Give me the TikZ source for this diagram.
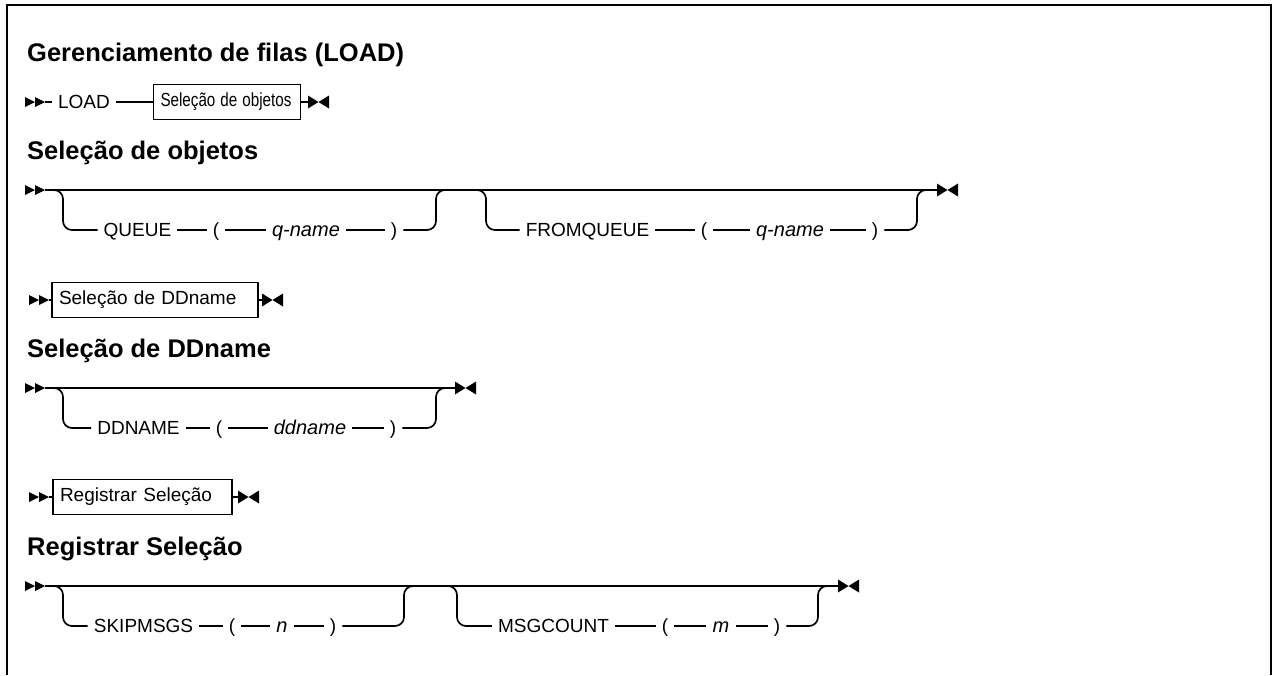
\documentclass[tikz,border=0pt]{standalone}
\usepackage{fontspec}
\setmainfont{Liberation Sans}
\tikzset{
  rail/.style={line width=1.7pt},
  rc/.style={rounded corners=9pt},
  tok/.style={inner xsep=6pt, inner ysep=0pt, text height=13.6pt, text depth=0pt, font=\fontsize{19}{22}\selectfont},
  itok/.style={tok, font=\fontsize{20}{22}\selectfont\itshape},
  boxed/.style={draw, line width=1.6pt, minimum height=35pt, inner xsep=7pt, inner ysep=0pt, align=left, text height=13.6pt, text depth=4pt, font=\fontsize{19}{22}\selectfont},
  hd/.style={anchor=base west, inner sep=0pt, font=\fontsize{25.5}{30}\selectfont\bfseries},
  startmark/.pic={\fill (-20,-5) -- (-10,0) -- (-20,5) -- cycle; \fill (-10,-5) -- (0,0) -- (-10,5) -- cycle;},
  endmark/.pic={\fill (0,-6.5) -- (10.5,0) -- (0,6.5) -- cycle; \fill (21,-6.5) -- (10.5,0) -- (21,6.5) -- cycle;}
}
\begin{document}
\begin{tikzpicture}[x=1pt,y=-1pt]
\useasboundingbox (0,0) rectangle (1274,675);
% frame
\draw[line width=2.5pt] (7,675) -- (7,5) -- (1271,5) -- (1271,675);

% ---- title and line 1
\node[hd] (t1) at (27,61) {Gerenciamento de filas (LOAD)};
\coordinate (s1) at (45,102);
\pic at (s1) {startmark};
\node[tok] (load) at (84,102) {LOAD};
\node[boxed, text width=133pt] (box1) at (227,102) {\scalebox{0.8}[1]{Seleção de objetos}};
\coordinate (e1) at (308,102);
\pic at (e1) {endmark};
\draw[rail] (s1) -- (load.west);
\draw[rail] (load.east) -- (box1.west);
\draw[rail] (box1.east) -- (e1);

% ---- Seleção de objetos
\node[hd] (t2) at (27,159) {Seleção de objetos};
\coordinate (s2) at (45,190);
\coordinate (e2) at (937,190);
\pic at (s2) {startmark};
\pic at (e2) {endmark};
\draw[rail] (s2) -- (e2);
% branch QUEUE
\node[tok] (qu) at (137.5,230) {QUEUE};
\node[tok] (qlp) at (216,230) {(};
\node[itok] (qn) at (306,230) {q-name};
\node[tok] (qrp) at (394,230) {)};
\draw[rail,rc] (s2) -- (63,190) |- (qu.west);
\draw[rail] (qu.east) -- (qlp.west);
\draw[rail] (qlp.east) -- (qn.west);
\draw[rail] (qn.east) -- (qrp.west);
\draw[rail,rc] (qrp.east) -| (436,190) -- (455,190);
% branch FROMQUEUE
\node[tok] (fq) at (587.5,230) {FROMQUEUE};
\node[tok] (flp) at (704,230) {(};
\node[itok] (fn) at (790,230) {q-name};
\node[tok] (frp) at (875,230) {)};
\draw[rail,rc] (468,190) -- (486,190) |- (fq.west);
\draw[rail] (fq.east) -- (flp.west);
\draw[rail] (flp.east) -- (fn.west);
\draw[rail] (fn.east) -- (frp.west);
\draw[rail,rc] (frp.east) -| (917,190) -- (e2);

% ---- line 3
\coordinate (s3) at (49,300);
\pic at (s3) {startmark};
\node[boxed, text width=192pt] (box2) at (155,300) {Seleção de DDname};
\coordinate (e3) at (262,300);
\pic at (e3) {endmark};
\draw[rail] (s3) -- (box2.west);
\draw[rail] (box2.east) -- (e3);

% ---- Seleção de DDname
\node[hd] (t3) at (27,357) {Seleção de DDname};
\coordinate (s4) at (45,388);
\coordinate (e4) at (455,388);
\pic at (s4) {startmark};
\pic at (e4) {endmark};
\draw[rail] (s4) -- (e4);
\node[tok] (dd) at (138.5,428) {DDNAME};
\node[tok] (dlp) at (219,428) {(};
\node[itok] (dn) at (310,428) {ddname};
\node[tok] (drp) at (393,428) {)};
\draw[rail,rc] (s4) -- (63,388) |- (dd.west);
\draw[rail] (dd.east) -- (dlp.west);
\draw[rail] (dlp.east) -- (dn.west);
\draw[rail] (dn.east) -- (drp.west);
\draw[rail,rc] (drp.east) -| (436,388) -- (e4);

% ---- line 4
\coordinate (s5) at (49,497);
\pic at (s5) {startmark};
\node[boxed, text width=165pt] (box3) at (142.5,497) {Registrar Seleção};
\coordinate (e5) at (238,497);
\pic at (e5) {endmark};
\draw[rail] (s5) -- (box3.west);
\draw[rail] (box3.east) -- (e5);

% ---- Registrar Seleção
\node[hd] (t4) at (27,555) {Registrar Seleção};
\coordinate (s6) at (45,586);
\coordinate (e6) at (838,586);
\pic at (s6) {startmark};
\pic at (e6) {endmark};
\draw[rail] (s6) -- (e6);
\node[tok] (sk) at (143.5,626) {SKIPMSGS};
\node[tok] (slp) at (232,626) {(};
\node[itok] (sn) at (282,626) {n};
\node[tok] (srp) at (333,626) {)};
\draw[rail,rc] (s6) -- (63,586) |- (sk.west);
\draw[rail] (sk.east) -- (slp.west);
\draw[rail] (slp.east) -- (sn.west);
\draw[rail] (sn.east) -- (srp.west);
\draw[rail,rc] (srp.east) -| (404,586) -- (420,586);
\node[tok] (mc) at (553.5,626) {MSGCOUNT};
\node[tok] (mlp) at (665,626) {(};
\node[itok] (mn) at (721,626) {m};
\node[tok] (mrp) at (777,626) {)};
\draw[rail,rc] (440,586) -- (457,586) |- (mc.west);
\draw[rail] (mc.east) -- (mlp.west);
\draw[rail] (mlp.east) -- (mn.west);
\draw[rail] (mn.east) -- (mrp.west);
\draw[rail,rc] (mrp.east) -| (818,586) -- (e6);
\end{tikzpicture}
\end{document}
